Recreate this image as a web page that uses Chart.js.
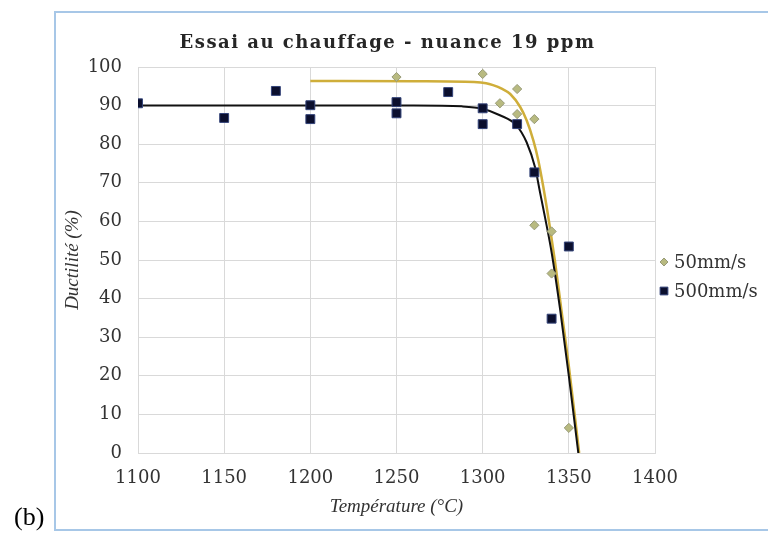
<!DOCTYPE html>
<html><head><meta charset="utf-8">
<script src="https://cdn.jsdelivr.net/npm/chart.js@4"></script>
<style>
html,body{margin:0;padding:0;background:#fff;}
#wrap{position:relative;width:768px;height:536px;overflow:hidden;}
#frame{position:absolute;left:54px;top:11px;width:740px;height:520px;border:2px solid #a7c7e7;box-sizing:border-box;pointer-events:none;}
#lbl{position:absolute;left:14px;top:502px;font:26px 'Liberation Serif',serif;color:#000;line-height:30px;}
canvas{position:absolute;left:0;top:0;}
</style></head>
<body><div id="wrap"><canvas id="c" width="768" height="536"></canvas><div id="frame"></div><div id="lbl">(b)</div></div>
<script>
const chartTitle = 'Essai au chauffage - nuance 19 ppm';
const xTitle = 'Température (°C)';
const yTitle = 'Ductilité (%)';
const xTicks = [1100, 1150, 1200, 1250, 1300, 1350, 1400];
const yTicks = [0, 10, 20, 30, 40, 50, 60, 70, 80, 90, 100];
const seriesNames = ['50mm/s', '500mm/s'];

const temp50 = [1250, 1300, 1310, 1320, 1320, 1330, 1330, 1340, 1340, 1350];
const duct50 = [97.4, 98.2, 90.6, 94.3, 87.8, 86.5, 59.0, 57.4, 46.5, 6.5];
const temp500 = [1100, 1150, 1180, 1200, 1200, 1250, 1250, 1280, 1300, 1300, 1320, 1330, 1340, 1350];
const duct500 = [90.6, 86.8, 93.8, 90.1, 86.5, 90.9, 88.0, 93.5, 89.3, 85.2, 85.2, 72.7, 34.8, 53.5];

const fitTemp50 = [1200, 1260, 1295, 1302, 1306, 1311, 1316, 1321.7, 1325.5, 1329.4, 1332.3, 1335.2, 1339, 1342, 1346, 1350, 1356];
const fitDuct50 = [96.4, 96.3, 96.1, 95.8, 95.3, 94.4, 93.0, 89.7, 86.2, 81.0, 75.8, 68.9, 58.5, 49.5, 36, 22.5, 0];
const fitTemp500 = [1100, 1260, 1288, 1300, 1310, 1319.6, 1325.5, 1330.4, 1333.3, 1336.2, 1340, 1345, 1350, 1355.5];
const fitDuct500 = [90, 90, 89.8, 89.2, 87.5, 84.9, 80.5, 74, 67.5, 61, 52, 37, 20, 0];

const pts = (xs, ys) => xs.map((x, i) => ({x, y: ys[i]}));

const deco = {
  id: 'deco',
  afterDraw(chart) {
    const {ctx, chartArea: a} = chart;
    ctx.save();
    ctx.font = 'bold 18px "DejaVu Serif"';
    ctx.fillStyle = '#262626';
    ctx.textAlign = 'center';
    ctx.textBaseline = 'middle';
    if ('letterSpacing' in ctx) ctx.letterSpacing = '1.5px';
    ctx.fillText(chartTitle, (a.left + a.right) / 2 - 9, 43);
    if ('letterSpacing' in ctx) ctx.letterSpacing = '0px';
    ctx.font = '18px "DejaVu Serif"';
    ctx.textAlign = 'left';
    const legendDs = chart.data.datasets.filter(d => d.legendPos !== undefined).sort((p, q) => p.legendPos - q.legendPos);
    legendDs.forEach((d, i) => {
      const y = a.top + 195 + i * 29;
      const x = a.right + 9;
      ctx.fillStyle = d.backgroundColor;
      ctx.strokeStyle = d.borderColor;
      ctx.lineWidth = 1;
      Chart.helpers.drawPoint(ctx, {pointStyle: d.pointStyle, radius: d.legendRadius, rotation: 0, borderWidth: 1}, x, y);
      ctx.fillStyle = '#333';
      ctx.fillText(d.label, a.right + 19, y + 1);
    });
    ctx.restore();
  }
};

new Chart(document.getElementById('c'), {
  type: 'scatter',
  data: {
    datasets: [
      {label: seriesNames[1], data: pts(temp500, duct500), pointStyle: 'rect', pointRadius: 6.3, backgroundColor: '#0b0f2e', borderColor: '#34447a', borderWidth: 1, legendPos: 1, legendRadius: 5.5},
      {label: seriesNames[0], data: pts(temp50, duct50), pointStyle: 'rectRot', pointRadius: 4.6, backgroundColor: '#b8ba80', borderColor: '#979a78', borderWidth: 1, legendPos: 0, legendRadius: 4},
      {label: 'fit500', data: pts(fitTemp500, fitDuct500), showLine: true, pointRadius: 0, borderColor: '#111111', borderWidth: 2, cubicInterpolationMode: 'monotone'},
      {label: 'fit50', data: pts(fitTemp50, fitDuct50), showLine: true, pointRadius: 0, borderColor: '#cfae3a', borderWidth: 2.5, cubicInterpolationMode: 'monotone'}
    ]
  },
  options: {
    responsive: false,
    animation: false,
    devicePixelRatio: 1,
    layout: {padding: {left: 58, right: 113, top: 67, bottom: 18}},
    plugins: {legend: {display: false}, title: {display: false}, tooltip: {enabled: false}},
    scales: {
      x: {
        type: 'linear', min: 1100, max: 1400,
        afterBuildTicks: s => { s.ticks = xTicks.map(v => ({value: v})); },
        ticks: {font: {family: 'DejaVu Serif', size: 18}, color: '#333', padding: 15, callback: v => String(v), maxRotation: 0, autoSkip: false},
        grid: {color: '#d9d9d9', drawTicks: false},
        border: {color: '#d9d9d9'},
        title: {display: true, text: xTitle, font: {family: 'Liberation Serif', style: 'italic', size: 19}, color: '#333', padding: {top: 0, bottom: 0}},
        afterFit: s => { s.height = 65; }
      },
      y: {
        type: 'linear', min: 0, max: 100,
        afterBuildTicks: s => { s.ticks = yTicks.map(v => ({value: v})); },
        ticks: {font: {family: 'DejaVu Serif', size: 18}, color: '#333', padding: 16, callback: v => String(v), autoSkip: false},
        grid: {color: '#d9d9d9', drawTicks: false},
        border: {color: '#d9d9d9'},
        title: {display: true, text: yTitle, font: {family: 'Liberation Serif', style: 'italic', size: 19}, color: '#333', padding: {top: 4, bottom: 0}},
        afterFit: s => { s.width = 80; }
      }
    }
  },
  plugins: [deco]
});
</script>
</body></html>
